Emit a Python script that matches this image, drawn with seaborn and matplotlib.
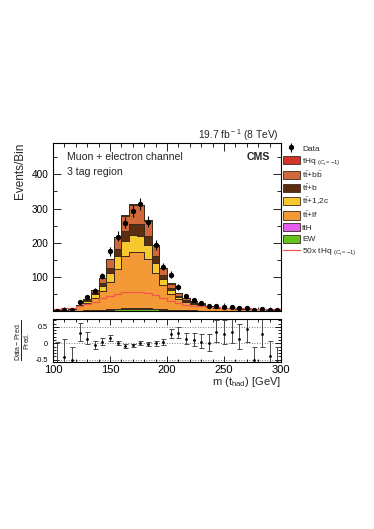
import matplotlib.patches as mpatches
import matplotlib.pyplot as plt
import numpy as np
import pandas as pd
import seaborn as sns
from matplotlib.lines import Line2D
from matplotlib.ticker import MultipleLocator

# 30 bins of m(t_had) between 100 and 300 GeV
bin_edges = np.linspace(100, 300, 31)
bin_centers = 0.5 * (bin_edges[:-1] + bin_edges[1:])

# expected events per bin, per process
ew = [0.3, 0.4, 0.6, 1.0, 1.5, 2.0, 3.0, 4.0, 5.0, 6.0, 6.5, 6.5, 6.0, 5.0, 4.0,
      3.0, 2.5, 2.0, 1.5, 1.2, 1.0, 0.8, 0.7, 0.6, 0.5, 0.5, 0.4, 0.4, 0.3, 0.3]
tth = [0.05, 0.1, 0.1, 0.2, 0.3, 0.5, 0.8, 1.2, 1.6, 2.0, 2.4, 2.5, 2.2, 1.7, 1.2,
       0.8, 0.6, 0.4, 0.3, 0.25, 0.2, 0.15, 0.12, 0.1, 0.1, 0.08, 0.07, 0.06, 0.05, 0.05]
tt_lf = [1.8, 2.5, 4.0, 12, 22, 37, 55, 80, 115, 152, 165, 164, 144, 105, 70,
         46, 31, 24, 19, 15, 11, 9.0, 7.5, 7.0, 6.0, 5.5, 4.5, 4.2, 3.8, 3.4]
tt_c = [0.1, 0.15, 0.5, 2.5, 4.5, 9, 15, 27, 38, 45, 48, 48, 40, 29, 18,
        11, 6.5, 4.0, 2.5, 2.0, 1.0, 0.7, 0.55, 0.4, 0.45, 0.3, 0.35, 0.28, 0.28, 0.25]
tt_b = [0.05, 0.08, 0.2, 1.2, 2.5, 5, 8.5, 15, 22, 28, 33, 33, 27, 19, 12,
        7, 4.0, 2.7, 1.7, 1.3, 0.6, 0.4, 0.35, 0.3, 0.3, 0.17, 0.2, 0.16, 0.18, 0.15]
tt_bb = [0.1, 0.12, 0.4, 1.8, 3.8, 8, 14, 24, 35.4, 46, 56, 55, 45.75, 32.35, 20,
         12.6, 7.0, 4.5, 2.7, 2.0, 1.0, 0.7, 0.6, 0.4, 0.45, 0.3, 0.35, 0.28, 0.28, 0.25]
thq = [0.1, 0.15, 0.2, 0.3, 0.4, 0.55, 0.75, 0.9, 1.0, 1.1, 1.1, 1.1, 1.05, 0.95, 0.75,
       0.6, 0.45, 0.38, 0.32, 0.28, 0.25, 0.22, 0.2, 0.18, 0.16, 0.15, 0.13, 0.12, 0.11, 0.1]

# observed events per bin
data_counts = [1, 2, 3, 25, 40, 58, 102, 175, 218, 258, 292, 313, 261, 193, 130,
               105, 69, 43, 31, 23, 15, 16, 13, 12, 9, 10, 3, 7, 3, 2]

thq_scale = 50

process_labels = [
    r"tHq $_{(C_{t}=-1)}$",
    r"t$\bar{\rm t}$+b$\bar{\rm b}$",
    r"t$\bar{\rm t}$+b",
    r"t$\bar{\rm t}$+1,2c",
    r"t$\bar{\rm t}$+lf",
    "ttH",
    "EW",
]
process_values = [thq, tt_bb, tt_b, tt_c, tt_lf, tth, ew]
process_colors = ["#d2362b", "#d0683a", "#5a2e10", "#f8c92f", "#f39a36", "#e65ef0", "#66c31c"]

EDGE = "#3b2b1e"


def build_stack_frame() -> pd.DataFrame:
    rows = []
    for label, values in zip(process_labels, process_values):
        for center, value in zip(bin_centers, values):
            rows.append({"m": center, "events": value, "process": label})
    return pd.DataFrame(rows)


def poisson_errors(counts: np.ndarray) -> tuple[np.ndarray, np.ndarray]:
    low = np.sqrt(counts + 0.25) - 0.5
    high = np.sqrt(counts + 0.25) + 0.5
    return low, high


def style_ticks(ax, labelsize: float) -> None:
    ax.tick_params(which="both", direction="in", top=True, right=True, colors="black",
                   labelsize=labelsize, width=0.6)
    ax.tick_params(which="major", length=6)
    ax.tick_params(which="minor", length=3)
    for spine in ax.spines.values():
        spine.set_linewidth(0.8)
        spine.set_color("black")


sns.set_style("ticks")
plt.rcParams["font.family"] = ["Liberation Sans", "DejaVu Sans"]
plt.rcParams["mathtext.fontset"] = "custom"
plt.rcParams["mathtext.rm"] = "Liberation Sans"
plt.rcParams["mathtext.it"] = "Liberation Sans:italic"
plt.rcParams["mathtext.bf"] = "Liberation Sans:bold"
plt.rcParams["axes.unicode_minus"] = False

fig = plt.figure(figsize=(3.74, 5.29), dpi=100)
ax = fig.add_axes([0.1417, 0.4121, 0.6096, 0.3176])
ax_r = fig.add_axes([0.1417, 0.3157, 0.6096, 0.0813], sharex=ax)

edges_list = bin_edges.tolist()
stack = build_stack_frame()
sns.histplot(
    data=stack, x="m", weights="events", hue="process", hue_order=process_labels,
    palette=process_colors, multiple="stack", bins=edges_list, element="step",
    alpha=1.0, edgecolor=EDGE, linewidth=0.7, legend=False, ax=ax,
)
sns.histplot(
    x=bin_centers, weights=np.asarray(thq) * thq_scale, bins=edges_list, element="step",
    fill=False, color="#f2574c", linewidth=0.9, ax=ax,
)

counts = np.asarray(data_counts, dtype=float)
err_lo, err_hi = poisson_errors(counts)
data_handle = ax.errorbar(bin_centers, counts, yerr=[err_lo, err_hi], fmt="o", color="black",
                          ms=2.8, elinewidth=0.8, capsize=0, zorder=5)

ax.set_xlim(100, 300)
ax.set_ylim(0, 492)
ax.yaxis.set_major_locator(MultipleLocator(100))
ax.yaxis.set_minor_locator(MultipleLocator(50))
ax.set_yticks([100, 200, 300, 400])
ax.xaxis.set_major_locator(MultipleLocator(50))
ax.xaxis.set_minor_locator(MultipleLocator(10))
ax.tick_params(labelbottom=False)
ax.set_xlabel("")
ax.set_ylabel("Events/Bin", fontsize=8.5, loc="top", labelpad=4)
style_ticks(ax, 7.2)

ax.text(0.06, 0.915, "Muon + electron channel", transform=ax.transAxes, fontsize=7.6, va="center")
ax.text(0.06, 0.83, "3 tag region", transform=ax.transAxes, fontsize=7.6, va="center")
ax.text(0.95, 0.915, "CMS", transform=ax.transAxes, fontsize=7.6, weight="bold",
        ha="right", va="center")
ax.text(0.99, 1.045, r"19.7 fb$^{\rm -1}$ (8 TeV)", transform=ax.transAxes, fontsize=7.4,
        ha="right", va="center")

# ratio panel
prediction = np.sum(np.asarray(process_values), axis=0)
ratio = (counts - prediction) / prediction
ratio_lo = err_lo / prediction
ratio_hi = err_hi / prediction
for level in (-0.5, 0, 0.5):
    ax_r.axhline(level, color="#777777", linestyle=":", linewidth=0.7, zorder=0)
ax_r.errorbar(bin_centers, ratio, yerr=[ratio_lo, ratio_hi], fmt="o", color="black", ms=1.0,
              ecolor="#4a4a4a", elinewidth=0.7, capsize=1.8, capthick=0.7)
ax_r.set_ylim(-0.57, 0.74)
ax_r.set_yticks([-0.5, 0, 0.5])
ax_r.set_yticklabels(["-0.5", "0", "0.5"])
ax_r.yaxis.set_minor_locator(MultipleLocator(0.1))
style_ticks(ax_r, 5.2)
ax_r.tick_params(axis="x", labelsize=8, pad=2)
ax_r.tick_params(which="major", length=4)
ax_r.tick_params(which="minor", length=2)
ax_r.set_xlabel(r"m (t$_{\rm had}$) [GeV]", fontsize=8, loc="right", labelpad=0)
ax_r.set_ylabel(r"$\frac{\rm Data-Pred.}{\rm Pred.}$", fontsize=7.2, labelpad=3)

# legend outside on the right
handles = [data_handle]
for color in process_colors:
    handles.append(mpatches.Patch(facecolor=color, edgecolor=EDGE, linewidth=0.6))
handles.append(Line2D([], [], color="#f2574c", linewidth=0.9))
labels = ["Data"] + process_labels + [r"50x tHq $_{(C_{t}=-1)}$"]
fig.legend(handles, labels, loc="upper left", bbox_to_anchor=(0.757, 0.728), frameon=False,
           fontsize=6, handlelength=2.0, handleheight=1.15, labelspacing=0.32,
           handletextpad=0.3, borderaxespad=0, borderpad=0)

fig.savefig("out.png", dpi=100)
plt.close(fig)
